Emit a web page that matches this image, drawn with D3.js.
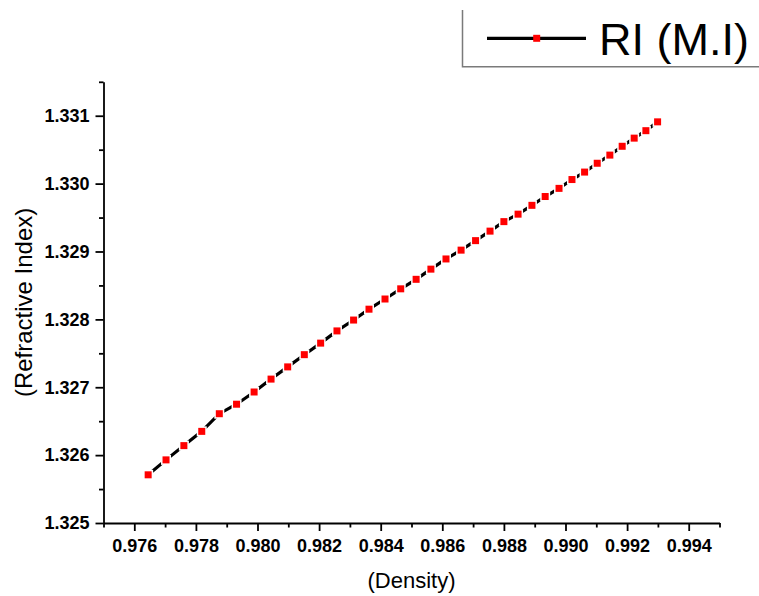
<!DOCTYPE html>
<html>
<head>
<meta charset="utf-8">
<script src="https://cdn.jsdelivr.net/npm/d3@7"></script>
<style>
  body { margin: 0; background: #fff; }
  svg { display: block; font-family: Arial, "Liberation Sans", sans-serif; }
</style>
</head>
<body>
<svg id="chart" width="759" height="596"></svg>
<script>
// density values (x)
var density = [
    0.97645, 0.97703, 0.97761, 0.97819, 0.97876, 0.97932, 0.97989, 0.98044,
    0.98098, 0.98152, 0.98205, 0.98258, 0.98312, 0.98362, 0.98414, 0.98465,
    0.98515, 0.98563, 0.98612, 0.98661, 0.98708, 0.98755, 0.98800, 0.98846,
    0.98891, 0.98934, 0.98979, 0.99021, 0.99062, 0.99103, 0.99144, 0.99184,
    0.99223, 0.99261, 0.99299
];

// refractive index values (y)
var refIndex = [
    1.32571, 1.32593, 1.32614, 1.32635, 1.32661, 1.32675, 1.32693, 1.32712,
    1.32730, 1.32748, 1.32765, 1.32783, 1.32799, 1.32815, 1.32830, 1.32845,
    1.32859, 1.32874, 1.32889, 1.32902, 1.32916, 1.32930, 1.32944, 1.32955,
    1.32968, 1.32981, 1.32993, 1.33006, 1.33017, 1.33030, 1.33042, 1.33055,
    1.33067, 1.33078, 1.33091
];

// tick values
var xMajorTicks = [0.976, 0.978, 0.980, 0.982, 0.984, 0.986, 0.988, 0.990, 0.992, 0.994];
var xMinorTicks = [0.975, 0.977, 0.979, 0.981, 0.983, 0.985, 0.987, 0.989, 0.991, 0.993, 0.995];
var yMajorTicks = [1.325, 1.326, 1.327, 1.328, 1.329, 1.330, 1.331];
var yMinorTicks = [1.3255, 1.3265, 1.3275, 1.3285, 1.3295, 1.3305, 1.3315];

var seriesName = "RI (M.I)";

var svg = d3.select("#chart");

// plot area edges (don't call it "top", that's window.top)
var pLeft = 103.5, pRight = 719.5, pTop = 81.8, pBottom = 523;

var x = d3.scaleLinear().domain([0.975, 0.995]).range([pLeft, pRight]);
var y = d3.scaleLinear().domain([1.325, 1.3315]).range([pBottom, pTop]);

var points = density.map(function (d, i) { return [d, refIndex[i]]; });

// axes: major ticks with labels, minor ticks without
svg.append("g").attr("transform", "translate(0," + pBottom + ")")
    .call(d3.axisBottom(x).tickValues(xMajorTicks).tickFormat(d3.format(".3f"))
        .tickSize(8).tickSizeOuter(0).tickPadding(8));
svg.append("g").attr("transform", "translate(0," + pBottom + ")")
    .call(d3.axisBottom(x).tickValues(xMinorTicks).tickFormat("").tickSize(4.5).tickSizeOuter(0))
    .select(".domain").remove();

svg.append("g").attr("transform", "translate(" + pLeft + ",0)")
    .call(d3.axisLeft(y).tickValues(yMajorTicks).tickFormat(d3.format(".3f"))
        .tickSize(8).tickSizeOuter(0).tickPadding(6));
svg.append("g").attr("transform", "translate(" + pLeft + ",0)")
    .call(d3.axisLeft(y).tickValues(yMinorTicks).tickFormat("").tickSize(4.5).tickSizeOuter(0))
    .select(".domain").remove();

svg.selectAll(".domain, .tick line").attr("stroke", "#000").attr("stroke-width", 1.8);
svg.selectAll(".tick text")
    .attr("fill", "#000")
    .style("font-size", "18px")
    .style("font-weight", "bold")
    .style("font-family", "Arial, 'Liberation Sans', sans-serif");

// axis titles
svg.append("text")
    .attr("x", (pLeft + pRight) / 2)
    .attr("y", 588)
    .attr("text-anchor", "middle")
    .style("font-size", "22px")
    .text("(Density)");

svg.append("text")
    .attr("transform", "translate(32," + ((pTop + pBottom) / 2) + ") rotate(-90)")
    .attr("text-anchor", "middle")
    .style("font-size", "24px")
    .text("(Refractive Index)");

// line + markers
var line = d3.line().x(function (d) { return x(d[0]); }).y(function (d) { return y(d[1]); });

svg.append("path")
    .datum(points)
    .attr("d", line)
    .attr("fill", "none")
    .attr("stroke", "#000")
    .attr("stroke-width", 3.2);

var ms = 7;
svg.append("g").selectAll("rect")
    .data(points)
    .join("rect")
    .attr("x", function (d) { return x(d[0]) - ms / 2; })
    .attr("y", function (d) { return y(d[1]) - ms / 2; })
    .attr("width", ms)
    .attr("height", ms)
    .attr("fill", "#ff0000")
    .attr("stroke", "#fff")
    .attr("stroke-width", 3)
    .style("paint-order", "stroke");

// legend box (only left and bottom edges show)
var legend = svg.append("g");
legend.append("path")
    .attr("d", "M462.5,10V66.7H759")
    .attr("fill", "none")
    .attr("stroke", "#7a7a7a")
    .attr("stroke-width", 1.5);
legend.append("line")
    .attr("x1", 487).attr("x2", 586)
    .attr("y1", 38.3).attr("y2", 38.3)
    .attr("stroke", "#000")
    .attr("stroke-width", 3.2);
legend.append("rect")
    .attr("x", 536.7 - ms / 2).attr("y", 38.3 - ms / 2)
    .attr("width", ms).attr("height", ms)
    .attr("fill", "#ff0000");
legend.append("text")
    .attr("x", 599)
    .attr("y", 55)
    .style("font-size", "45px")
    .text(seriesName);
</script>
</body>
</html>
